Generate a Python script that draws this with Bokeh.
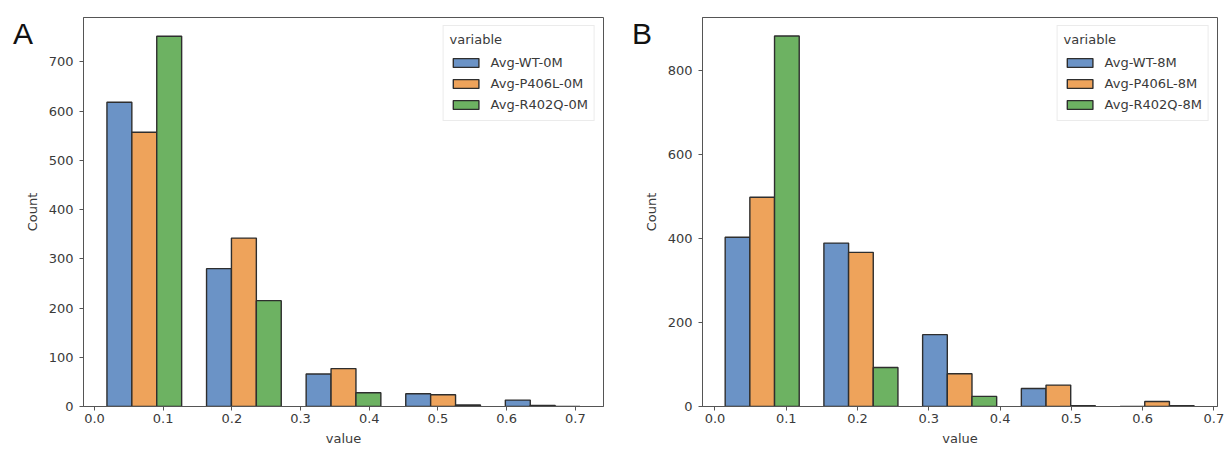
from bokeh.plotting import figure
from bokeh.layouts import row
from bokeh.models import (ColumnDataSource, FixedTicker, NumeralTickFormatter,
                          Range1d, Legend, LegendItem, Div)
from bokeh.embed import file_html
from bokeh.resources import INLINE

# ---------------- data ----------------
series_a = ["Avg-WT-0M", "Avg-P406L-0M", "Avg-R402Q-0M"]
edges_a = [0.0, 0.145, 0.29, 0.435, 0.58, 0.725]
wt_0m = [618, 280, 66, 26, 13]
p406l_0m = [557, 342, 77, 24, 2]
r402q_0m = [752, 215, 28, 3, 0]

series_b = ["Avg-WT-8M", "Avg-P406L-8M", "Avg-R402Q-8M"]
edges_b = [-0.003, 0.1355, 0.274, 0.4125, 0.551, 0.6895]
wt_8m = [403, 389, 171, 43, 0]
p406l_8m = [498, 367, 78, 51, 12]
r402q_8m = [882, 93, 24, 2, 2]

x_ticks = [0.0, 0.1, 0.2, 0.3, 0.4, 0.5, 0.6, 0.7]
y_ticks_a = [0, 100, 200, 300, 400, 500, 600, 700]
y_ticks_b = [0, 200, 400, 600, 800]

colors = ["#6b93c6", "#eea35b", "#6db262"]
SHRINK = 0.75
FONT = "DejaVu Sans"
FS = "13px"
TEXT = "#3a3a3a"
AXIS = "#555555"


def make_panel(series, edges, values, xr, yr, yticks, width, bl, br):
    p = figure(width=width, height=450, output_backend="svg", toolbar_location=None,
               x_range=Range1d(*xr), y_range=Range1d(*yr),
               min_border_left=bl, min_border_right=br, min_border_top=17,
               min_border_bottom=44)
    p.grid.visible = False
    p.background_fill_color = "white"
    p.border_fill_color = "white"
    p.outline_line_color = AXIS
    p.outline_line_width = 1

    items = []
    n = len(series)
    for i, (name, vals) in enumerate(zip(series, values)):
        lefts, rights, tops = [], [], []
        for k in range(len(vals)):
            lo, hi = edges[k], edges[k + 1]
            w = hi - lo
            center = (lo + hi) / 2
            gw = w * SHRINK
            start = center - gw / 2
            lefts.append(start + i * gw / n)
            rights.append(start + (i + 1) * gw / n)
            tops.append(vals[k])
        src = ColumnDataSource(dict(left=lefts, right=rights, top=tops, bottom=[0] * len(tops)))
        r = p.quad(left="left", right="right", top="top", bottom="bottom", source=src,
                   fill_color=colors[i], fill_alpha=1.0, line_color="#2e2e2e", line_width=1.4)
        items.append(LegendItem(label=name, renderers=[r]))

    leg = Legend(items=items, location="top_right", title="variable",
                 title_text_font=FONT, title_text_font_size=FS,
                 title_text_font_style="normal", title_text_color=TEXT,
                 label_text_font=FONT, label_text_font_size=FS, label_text_color=TEXT,
                 glyph_width=32, glyph_height=11, label_height=20, spacing=1,
                 label_standoff=9, padding=6, margin=8,
                 border_line_color="#d8d8d8", border_line_width=1,
                 background_fill_alpha=0.85, title_standoff=5)
    p.add_layout(leg)

    for ax in (p.xaxis, p.yaxis):
        ax.axis_line_color = AXIS
        ax.major_tick_line_color = AXIS
        ax.major_tick_out = 4
        ax.major_tick_in = 0
        ax.minor_tick_line_color = None
        ax.major_label_text_font = FONT
        ax.major_label_text_font_size = FS
        ax.major_label_text_color = TEXT
        ax.axis_label_text_font = FONT
        ax.axis_label_text_font_size = FS
        ax.axis_label_text_font_style = "normal"
        ax.axis_label_text_color = TEXT

    p.xaxis.ticker = FixedTicker(ticks=x_ticks)
    p.xaxis.formatter = NumeralTickFormatter(format="0.0")
    p.xaxis.axis_label = "value"
    p.xaxis.major_label_standoff = 3
    p.xaxis.axis_label_standoff = 5

    p.yaxis.ticker = FixedTicker(ticks=yticks)
    p.yaxis.axis_label = "Count"
    p.yaxis.major_label_standoff = 6
    p.yaxis.axis_label_standoff = 6
    return p


def letter_div(text, left):
    return Div(text=text, styles={"position": "absolute", "left": left, "top": "14px",
                                  "font-family": "Liberation Sans", "font-size": "30px",
                                  "color": "#111111", "z-index": "10", "line-height": "1"})


pa = make_panel(series_a, edges_a, [wt_0m, p406l_0m, r402q_0m],
                (-0.016, 0.741), (0, 790), y_ticks_a, 640, 83, 37)
pb = make_panel(series_b, edges_b, [wt_8m, p406l_8m, r402q_8m],
                (-0.0175, 0.705), (0, 926), y_ticks_b, 584, 60, 7)

layout = row(pa, pb, letter_div("A", "8px"), letter_div("B", "627px"), spacing=0)
open("out.html", "w").write(file_html(layout, INLINE))
